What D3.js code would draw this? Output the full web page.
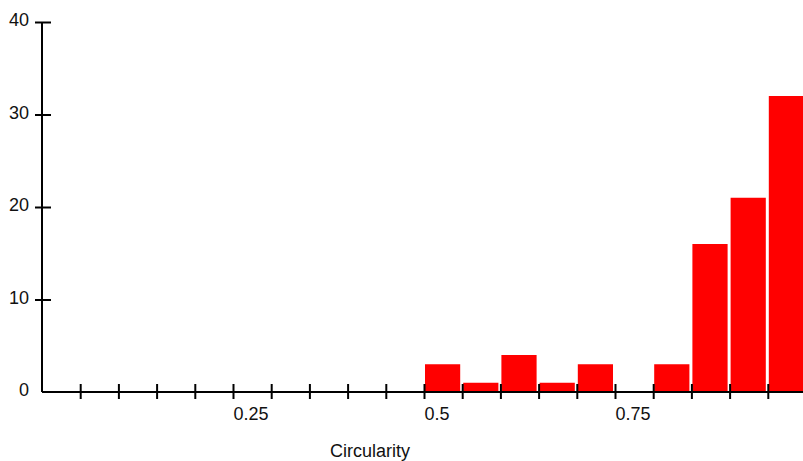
<!DOCTYPE html>
<html>
<head>
<meta charset="utf-8">
<script src="https://cdn.jsdelivr.net/npm/d3@7"></script>
<style>
  html, body { margin: 0; padding: 0; background: #fff; }
  svg { display: block; }
  text { font-family: "Liberation Sans", Arial, sans-serif; font-size: 18px; fill: #111; }
</style>
</head>
<body>
<svg id="chart" width="803" height="461"></svg>
<script>
// Histogram bins of circularity (bin start, bin end) and counts
const binStarts = [0.50, 0.55, 0.60, 0.65, 0.70, 0.75, 0.80, 0.85, 0.90, 0.95];
const binWidth = 0.05;
const counts    = [3, 1, 4, 1, 3, 0, 3, 16, 21, 32];
const xTickValues = [0.05,0.10,0.15,0.20,0.25,0.30,0.35,0.40,0.45,0.50,0.55,0.60,0.65,0.70,0.75,0.80,0.85,0.90,0.95];
const xTickLabels = {"0.25": "0.25", "0.5": "0.5", "0.75": "0.75"};
const yTickValues = [0, 10, 20, 30, 40];
const xTitle = "Circularity";

const svg = d3.select("#chart");
const x = d3.scaleLinear().domain([0, 1]).range([42, 806]);
const y = d3.scaleLinear().domain([0, 40]).range([392, 22]);

// bars
svg.append("g").selectAll("rect")
  .data(binStarts.map((b, i) => ({x0: b, x1: b + binWidth, v: counts[i]})).filter(d => d.v > 0))
  .join("rect")
  .attr("x", d => x(d.x0) + 1)
  .attr("width", d => x(d.x1) - x(d.x0) - 3)
  .attr("y", d => y(d.v))
  .attr("height", d => y(0) - y(d.v))
  .attr("fill", "#ff0000");

// x axis
const xAxis = d3.axisBottom(x)
  .tickValues(xTickValues)
  .tickSize(7)
  .tickFormat(d => xTickLabels[String(+d.toFixed(2))] || "");
const gx = svg.append("g").attr("transform", `translate(0,${y(0)})`).call(xAxis);
gx.select(".domain").attr("d", `M${x(0)},0H803`).attr("stroke", "#000").attr("stroke-width", 2);
gx.selectAll(".tick line").attr("y1", -8).attr("y2", 7).attr("stroke", "#000").attr("stroke-width", 2);
gx.selectAll(".tick text")
  .attr("text-anchor", "start")
  .attr("x", 0)
  .attr("y", 28)
  .attr("dy", "0")
  .attr("fill", "#111")
  .style("font-family", "'Liberation Sans', Arial, sans-serif")
  .style("font-size", "18px");

// y axis
const yAxis = d3.axisLeft(y).tickValues(yTickValues).tickSize(7).tickFormat(d3.format("d"));
const gy = svg.append("g").attr("transform", `translate(${x(0)},0)`).call(yAxis);
gy.select(".domain").attr("d", `M0,${y(40)}V${y(0)}`).attr("stroke", "#000").attr("stroke-width", 2);
gy.selectAll(".tick line")
  .attr("x1", d => d === 0 ? 0 : 9)
  .attr("x2", d => d === 0 ? 0 : -7)
  .attr("stroke", "#000").attr("stroke-width", 2);
gy.selectAll(".tick text")
  .attr("x", -13)
  .attr("y", -2)
  .attr("fill", "#111")
  .style("font-family", "'Liberation Sans', Arial, sans-serif")
  .style("font-size", "18px");

// x title
svg.append("text")
  .attr("x", 370)
  .attr("y", 457)
  .attr("text-anchor", "middle")
  .text(xTitle);
</script>
</body>
</html>
